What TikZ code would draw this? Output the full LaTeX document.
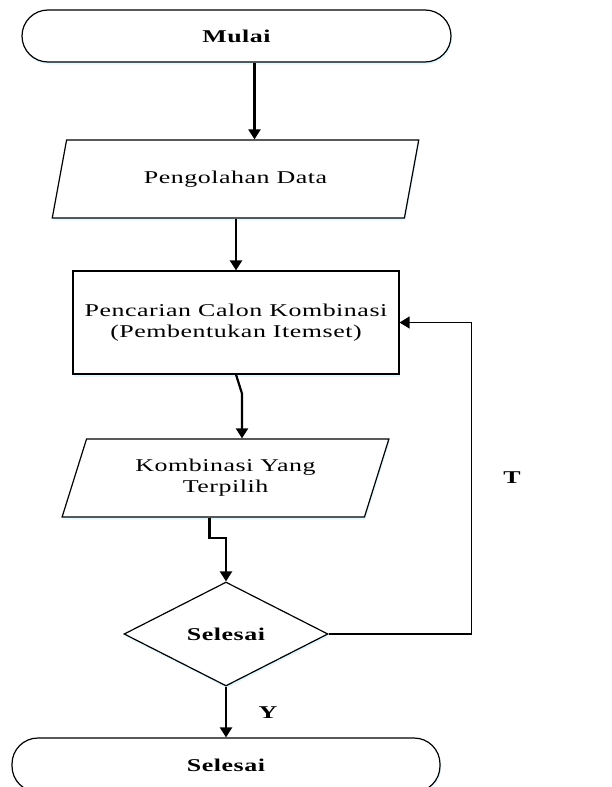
\documentclass[tikz,border=0pt]{standalone}
\usepackage{fontspec}
\setmainfont{Liberation Serif}[FakeStretch=1.44,LetterSpace=3]
\usetikzlibrary{arrows.meta,shapes.geometric,shadows}
\begin{document}
\begin{tikzpicture}[x=1pt,y=-1pt,
  font=\fontsize{18}{21}\selectfont,
  softshadow/.style={drop shadow={shadow xshift=1pt,shadow yshift=-2.5pt,fill=blue!25!cyan!20,opacity=0.5}},
  fcbox/.style={draw,line width=1.2pt,fill=white,inner sep=0pt,align=center,softshadow},
  terminal/.style={fcbox,rectangle,rounded corners=26pt},
  io/.style={fcbox,trapezium,trapezium stretches=true},
  process/.style={fcbox,rectangle},
  decision/.style={fcbox,diamond},
  flow/.style={line width=2.2pt,-{Triangle[width=12pt,length=10pt]}},
  loop/.style={line width=1.6pt,-{Triangle[width=12pt,length=10pt]}},
  branch/.style={font=\fontsize{18}{21}\selectfont\bfseries}]
\useasboundingbox (0,0) rectangle (611,787);

\node[terminal,minimum width=429pt,minimum height=52pt,font=\fontsize{18}{21}\selectfont\bfseries]
  (start) at (236.5,36) {Mulai};
\node[io,trapezium left angle=64.6,trapezium right angle=115.4,
  minimum width=367pt,minimum height=78pt] (data) at (235.5,179) {Pengolahan Data};
\node[process,minimum width=326pt,minimum height=103pt] (search) at (236,322.5)
  {Pencarian Calon Kombinasi\\(Pembentukan Itemset)};
\node[io,trapezium left angle=67,trapezium right angle=113,
  minimum width=327pt,minimum height=78pt] (chosen) at (225.5,478)
  {Kombinasi Yang\\Terpilih};
\node[decision,minimum width=204pt,minimum height=104pt,font=\fontsize{18}{21}\selectfont\bfseries]
  (done) at (226,634) {Selesai};
\node[terminal,minimum width=428pt,minimum height=54pt,font=\fontsize{18}{21}\selectfont\bfseries]
  (finish) at (226,765) {Selesai};

\draw[flow] ([xshift=18pt]start.south) -- ([xshift=18pt]start.south |- data.north);
\draw[flow] (data.south -| search.north) -- (search.north);
\draw[flow] (search.south) -- ([xshift=6pt,yshift=-19pt]search.south)
  -- ([xshift=6pt]search.south |- chosen.north);
\draw[flow] ([xshift=-16pt]chosen.south) -- ++(0,20) -| (done.north);
\draw[loop] (done.east) -| ([xshift=72pt]search.east) -- (search.east);
\draw[flow] (done.south) -- (finish.north);

\node[branch] (no) at (512,478) {T};
\node[branch] (yes) at (268,713) {Y};
\end{tikzpicture}
\end{document}
